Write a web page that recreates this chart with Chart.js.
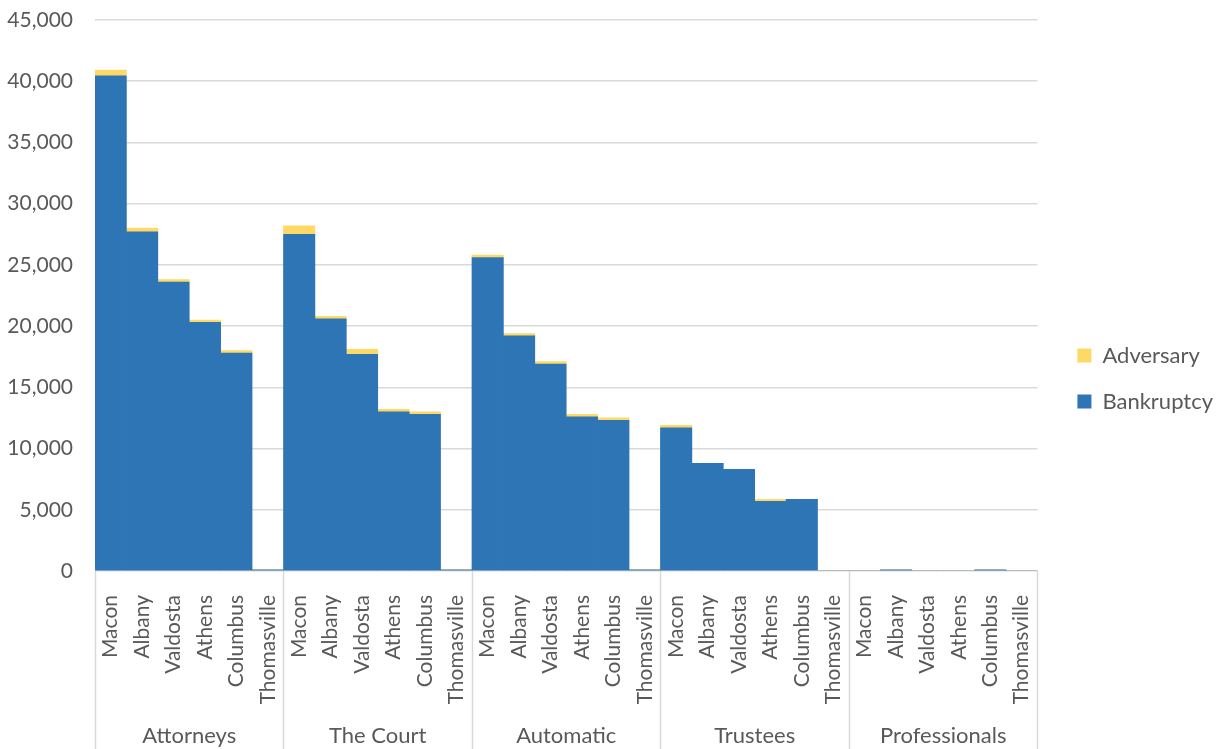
<!DOCTYPE html>
<html>
<head>
<meta charset="utf-8">
<script src="https://cdn.jsdelivr.net/npm/chart.js@4"></script>
<style>
  html, body { margin: 0; padding: 0; background: #fff; }
  #wrap { width: 1217px; height: 749px; }
</style>
</head>
<body>
<div id="wrap"><canvas id="barChart"></canvas></div>
<script>
// categories
const groups = ['Attorneys', 'The Court', 'Automatic', 'Trustees', 'Professionals'];
const cities = ['Macon', 'Albany', 'Valdosta', 'Athens', 'Columbus', 'Thomasville'];

// series values, one per group/city, in the same order
const bankruptcy = [
  40450, 27700, 23600, 20300, 17800, 100,
  27500, 20600, 17700, 13000, 12800, 100,
  25600, 19200, 16900, 12600, 12300, 100,
  11700, 8800, 8300, 5700, 5850, 0,
  0, 100, 0, 0, 100, 0
];
const adversary = [
  450, 300, 200, 200, 200, 0,
  700, 200, 400, 200, 200, 0,
  200, 200, 200, 200, 200, 0,
  200, 0, 0, 150, 0, 0,
  0, 0, 0, 0, 0, 0
];

const labels = groups.flatMap(() => cities);
const textColor = '#595959';
const gridColor = '#D9D9D9';
const font = { family: 'Lato', size: 22 };

// group separator lines below the plot
const groupLines = {
  id: 'groupLines',
  afterDraw(chart) {
    const x = chart.scales.x;
    const ctx = chart.ctx;
    const step = (x.right - x.left) / labels.length;
    ctx.save();
    ctx.strokeStyle = gridColor;
    ctx.lineWidth = 1.5;
    for (let g = 0; g <= groups.length; g++) {
      const px = Math.round(x.left + g * cities.length * step) + 0.5;
      ctx.beginPath();
      ctx.moveTo(px, x.top);
      ctx.lineTo(px, chart.height);
      ctx.stroke();
    }
    ctx.restore();
  }
};

// fixed axis sizes, without the extra padding chart.js adds
const fixSize = (w, h, top) => s => {
  s.paddingLeft = 0; s.paddingRight = 0;
  s.paddingTop = top || 0; s.paddingBottom = 0;
  if (w) s.width = w;
  if (h) s.height = h;
};

const ctx = document.getElementById('barChart').getContext('2d');
new Chart(ctx, {
  type: 'bar',
  data: {
    labels: labels,
    datasets: [{
      label: 'Bankruptcy',
      data: bankruptcy,
      backgroundColor: '#2E75B6',
      borderWidth: 0
    }, {
      label: 'Adversary',
      data: adversary,
      backgroundColor: '#FFD966',
      borderWidth: 0
    }]
  },
  options: {
    responsive: true,
    maintainAspectRatio: false,
    animation: false,
    categoryPercentage: 1,
    barPercentage: 1,
    layout: { padding: { top: 8, left: 6, right: -6, bottom: 0 } },
    scales: {
      x: {
        stacked: true,
        grid: { display: false },
        border: { display: false },
        afterFit: fixSize(0, 134),
        ticks: {
          color: textColor,
          font: { family: 'Lato', size: 21 },
          minRotation: 90,
          maxRotation: 90,
          autoSkip: false,
          padding: 16
        }
      },
      x2: {
        type: 'category',
        labels: groups,
        position: 'bottom',
        offset: true,
        grid: { display: false },
        border: { display: false },
        afterFit: fixSize(0, 44),
        ticks: { color: textColor, font: font, padding: 10 }
      },
      y: {
        stacked: true,
        min: 0,
        max: 45000,
        afterFit: fixSize(89, 0, 20),
        ticks: {
          stepSize: 5000,
          color: textColor,
          font: { family: 'Lato', size: 21 },
          padding: 22,
          callback: v => v.toLocaleString('en-US')
        },
        grid: { color: gridColor, lineWidth: 1.5, drawTicks: false },
        border: { display: false }
      },
      // empty axis, only keeps a gap between plot and legend
      gap: {
        type: 'linear',
        position: 'right',
        grid: { display: false },
        border: { display: false },
        ticks: { display: false },
        afterFit: fixSize(16, 0)
      }
    },
    plugins: {
      legend: {
        position: 'right',
        reverse: true,
        labels: {
          color: textColor,
          font: { family: 'Lato', size: 22 },
          boxWidth: 14,
          boxHeight: 14,
          padding: 24
        }
      },
      tooltip: { enabled: false }
    }
  },
  plugins: [groupLines]
});
</script>
</body>
</html>
